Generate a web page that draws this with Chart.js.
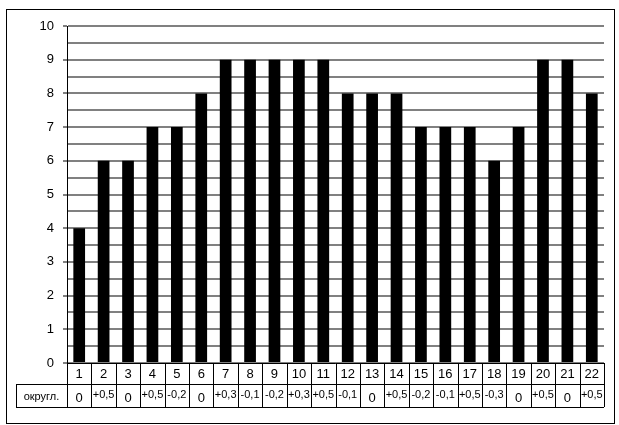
<!DOCTYPE html>
<html>
<head>
<meta charset="utf-8">
<script src="https://cdn.jsdelivr.net/npm/chart.js@4.4.1/dist/chart.umd.min.js"></script>
<style>
  body { margin: 0; background: #fff; }
  canvas { display: block; }
</style>
</head>
<body>
<canvas id="chart" width="619" height="425"></canvas>
<script>
const categories = ["1", "2", "3", "4", "5", "6", "7", "8", "9", "10", "11",
  "12", "13", "14", "15", "16", "17", "18", "19", "20", "21", "22"];
const values = [4, 6, 6, 7, 7, 8, 9, 9, 9, 9, 9, 8, 8, 8, 7, 7, 7, 6, 7, 9, 9, 8];
const roundRowTitle = "округл.";
const roundRow = ["0", "+0,5", "0", "+0,5", "-0,2", "0", "+0,3", "-0,1", "-0,2", "+0,3",
  "+0,5", "-0,1", "0", "+0,5", "-0,2", "-0,1", "+0,5", "-0,3", "0", "+0,5", "0", "+0,5"];

const FONT = '"Liberation Sans", Arial, sans-serif';

// frame around everything + the data table under the plot
const tablePlugin = {
  id: "dataTable",
  afterDraw(chart) {
    const c = chart.ctx;
    const xs = chart.scales.x;
    const area = chart.chartArea;
    const top = Math.round(area.bottom);
    const row1 = top + 21;
    const row2 = top + 44;
    const labelLeft = 16;
    const step = (xs.right - xs.left) / categories.length;

    c.save();
    c.strokeStyle = "#000";
    c.lineWidth = 1;

    // outer frame
    c.strokeRect(6.5, 9.5, 608, 414);

    c.beginPath();
    c.moveTo(xs.left, top + 0.5);
    c.lineTo(xs.right, top + 0.5);
    c.moveTo(labelLeft, row1 + 0.5);
    c.lineTo(xs.right, row1 + 0.5);
    c.moveTo(labelLeft, row2 + 0.5);
    c.lineTo(xs.right, row2 + 0.5);
    c.moveTo(labelLeft + 0.5, row1);
    c.lineTo(labelLeft + 0.5, row2);
    for (let i = 0; i <= categories.length; i++) {
      const x = Math.round(xs.left + i * step) + 0.5;
      c.moveTo(x, top);
      c.lineTo(x, row2);
    }
    c.stroke();

    c.fillStyle = "#000";
    c.textAlign = "center";
    c.textBaseline = "middle";
    categories.forEach((lab, i) => {
      const cx = xs.getPixelForValue(i);
      c.font = "13px " + FONT;
      c.fillText(lab, cx, (top + row1) / 2 + 1);
      const v = roundRow[i];
      if (v === "0") {
        c.font = "13px " + FONT;
        c.fillText(v, cx, (row1 + row2) / 2 + 3);
      } else {
        c.font = "11px " + FONT;
        c.fillText(v, cx, (row1 + row2) / 2 - 1);
      }
    });
    c.font = "11px " + FONT;
    c.fillText(roundRowTitle, (labelLeft + xs.left) / 2, (row1 + row2) / 2 + 1);
    c.restore();
  },
};

new Chart(document.getElementById("chart"), {
  type: "bar",
  data: {
    labels: categories,
    datasets: [
      {
        data: values,
        backgroundColor: "#000",
        borderWidth: 0,
        barPercentage: 0.48,
        categoryPercentage: 1,
      },
    ],
  },
  options: {
    responsive: false,
    animation: false,
    events: [],
    layout: { padding: { top: 26, bottom: 62, left: 0, right: 15 } },
    plugins: {
      legend: { display: false },
      tooltip: { enabled: false },
    },
    scales: {
      x: { display: false },
      y: {
        min: 0,
        max: 10,
        afterFit(scale) {
          scale.width = 67;
        },
        ticks: {
          stepSize: 0.5,
          autoSkip: false,
          padding: 9,
          color: "#000",
          font: { family: FONT, size: 13 },
          callback: (v) => (Number.isInteger(v) ? v : ""),
        },
        grid: {
          color: "#808080",
          lineWidth: 2,
          tickLength: 4,
          tickColor: (ctx) =>
            ctx.tick && Number.isInteger(ctx.tick.value) ? "#808080" : "rgba(0,0,0,0)",
        },
        border: { color: "#000", width: 1 },
      },
    },
  },
  plugins: [tablePlugin],
});
</script>
</body>
</html>
